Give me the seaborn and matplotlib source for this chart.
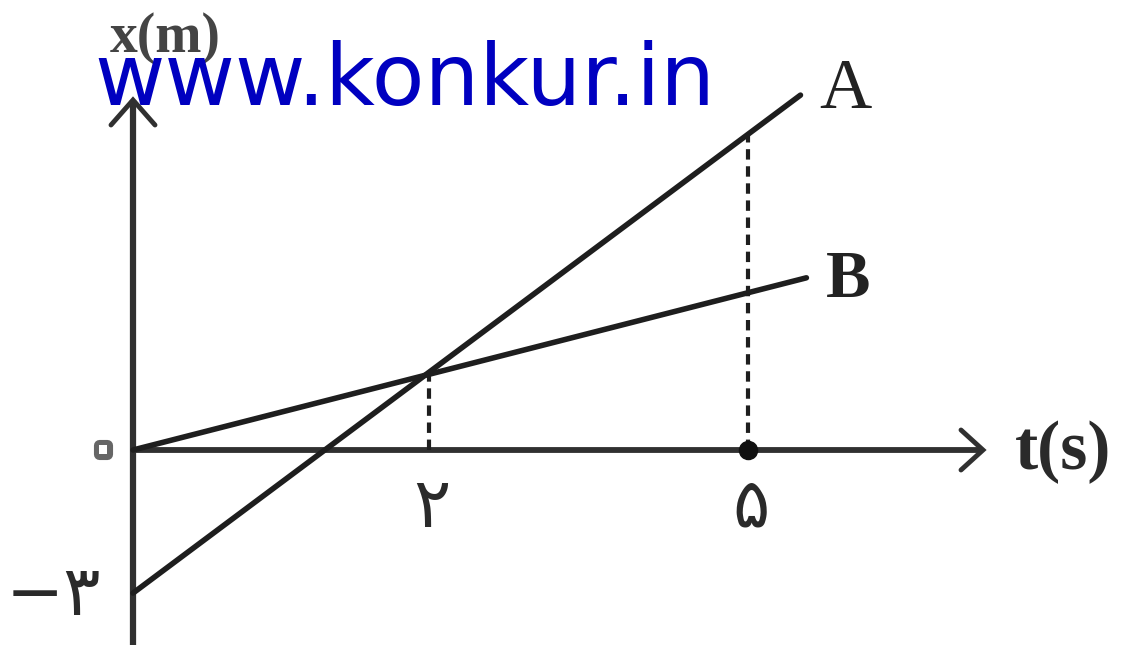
import matplotlib
matplotlib.use("Agg")
import matplotlib.pyplot as plt
import matplotlib.patheffects as pe
import seaborn as sns
import pandas as pd
import numpy as np

# ---- data (read from the schematic) ----
line_names = ["A", "B"]
t_A = [0.0, 4.51]
x_A = [-3.0, 7.44]
t_B = [0.0, 4.55]
x_B = [0.0, 3.61]
t_meet = 2.0
x_meet = 1.59
t_five = 4.155
tick_t_pos = [2.0, 4.155]
tick_t_labels = ["۲", "۵"]
tick_x_pos = [0.0, -3.0]
tick_x_labels = ["۰", "−۳"]
watermark = "www.konkur.in"

sns.set_theme(style="white")
plt.rcParams['font.family'] = ['DejaVu Sans']

W, H = 1125, 645
fig = plt.figure(figsize=(W / 100, H / 100), dpi=100)
ax = fig.add_axes([0, 0, 1, 1])

# pixel mapping: t pixel = 133 + 148 t ; x pixel = 450 - 47.7 x
sx, ox = 148.0, 133.0
sy, oy = 47.7, 450.0
ax.set_xlim(-ox / sx, (W - ox) / sx)
ax.set_ylim(-(H - oy) / sy, oy / sy)
ax.axis("off")

df = pd.DataFrame({
    "t": t_A + t_B,
    "x": x_A + x_B,
    "name": ["A"] * len(t_A) + ["B"] * len(t_B),
})

axis_col = "#303030"
line_col = "#1e1e1e"

# axes
tmax_axis = (983 - ox) / sx
xtop_axis = (oy - 100) / sy
ax.plot([-0.02, tmax_axis], [0, 0], color=axis_col, lw=4.2, solid_capstyle="butt", zorder=2)
ax.plot([0, 0], [-(H - oy) / sy, xtop_axis], color=axis_col, lw=4.5, solid_capstyle="butt", zorder=2)
# arrow heads (open chevrons)
ah_t = 22 / sx
ah_x = 20 / sy
ax.plot([tmax_axis - ah_t, tmax_axis, tmax_axis - ah_t], [ah_x, 0, -ah_x],
        color=axis_col, lw=3.5, solid_joinstyle="miter", zorder=2)
av_t = 22 / sx
av_x = 25 / sy
ax.plot([-av_t, 0, av_t], [xtop_axis - av_x, xtop_axis, xtop_axis - av_x],
        color=axis_col, lw=3.5, solid_joinstyle="miter", zorder=2)

# lines A and B
sns.lineplot(data=df, x="t", y="x", units="name", estimator=None, color=line_col,
             lw=4.0, ax=ax, legend=False, zorder=3)

# dashed guides
ax.plot([t_meet, t_meet], [0, x_meet], color=line_col, lw=3.0, ls=(0, (2.5, 1.6)), zorder=2)
xa5 = x_A[0] + (x_A[1] - x_A[0]) * t_five / t_A[1]
ax.plot([t_five, t_five], [0, xa5], color=line_col, lw=3.0, ls=(0, (2.5, 1.6)), zorder=2)
ax.scatter([t_five], [0], s=170, color="#111111", zorder=4)

# line labels
ax.text(t_A[1] + 0.13, x_A[1] + 0.1, "A", fontsize=52, family="Liberation Serif",
        color="#222222", ha="left", va="center")
ax.text(t_B[1] + 0.13, x_B[1] - 0.05, "B", fontsize=48, family="Liberation Serif",
        weight="bold", color="#222222", ha="left", va="center")

# tick labels
for tp, tl in zip(tick_t_pos, tick_t_labels):
    ax.text(tp + 0.02, -1.2, tl, fontsize=50, color="#2a2a2a",
            ha="center", va="center")
ax.text(-30 / sx, 0, tick_x_labels[0], fontsize=55, color="white",
        ha="center", va="center",
        path_effects=[pe.withStroke(linewidth=8, foreground="#666666", joinstyle="round")])
ax.text(-32 / sx, -3.05, tick_x_labels[1], fontsize=50, color="#2a2a2a",
        ha="right", va="center")

# axis titles
fig.text(165 / W, 1 - 38 / H, "x(m)", fontsize=40, family="Liberation Serif", weight="bold",
         color="#444444", ha="center", va="center")
fig.text(1015 / W, 1 - 452 / H, "t(s)", fontsize=50, family="Liberation Serif", weight="bold",
         color="#2a2a2a", ha="left", va="center")

# watermark
fig.text(94 / W, 1 - 81 / H, watermark, fontsize=62, color="#0000C0",
         family="DejaVu Sans", ha="left", va="center", zorder=10)

fig.savefig("out.png", dpi=100, facecolor="white")
